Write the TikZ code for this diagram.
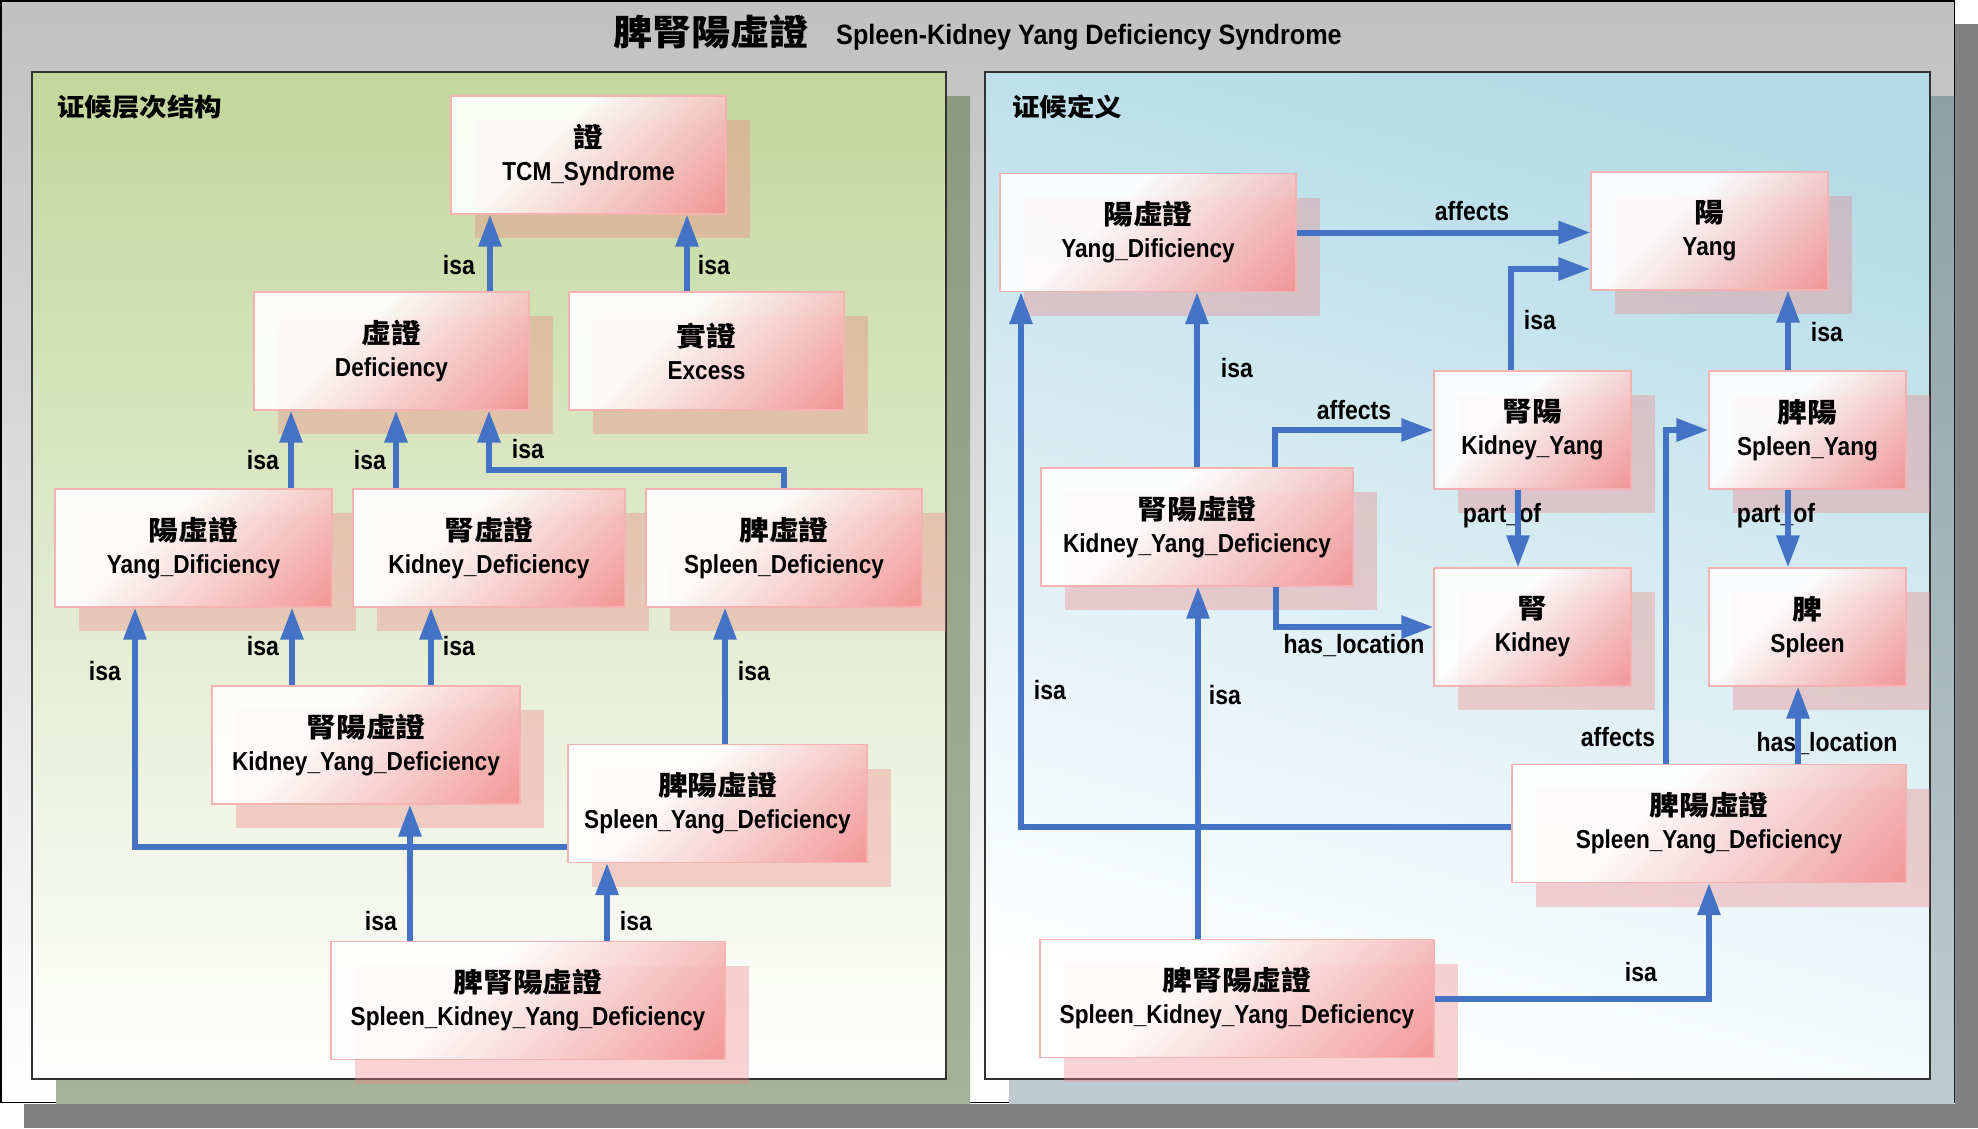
\documentclass[tikz,border=0pt]{standalone}
\usepackage{fontspec}
\setmainfont{Liberation Sans}[FakeStretch=0.87]
\newfontfamily\titlelatin{Liberation Sans}[FakeStretch=0.9]
\newfontfamily\cjk{Noto Sans CJK SC}[FakeStretch=1.1]
\newfontfamily\cjkn{Noto Sans CJK SC}[FakeStretch=1.1,Scale=1.04]
\usetikzlibrary{arrows.meta,calc,shadows}

\definecolor{linkblue}{RGB}{68,114,196}
\definecolor{framegray}{RGB}{192,192,192}
\definecolor{frameshadow}{RGB}{128,128,128}
\definecolor{leftgreen}{RGB}{195,214,156}
\definecolor{leftshadowtop}{RGB}{142,154,127}
\definecolor{leftshadowbot}{RGB}{166,178,149}
\definecolor{rightblue}{RGB}{180,219,231}
\definecolor{rightshadowtop}{RGB}{140,160,166}
\definecolor{rightshadowbot}{RGB}{190,204,209}
\definecolor{panelline}{RGB}{50,50,50}
\definecolor{conceptred}{RGB}{242,108,108}
\definecolor{conceptpink}{RGB}{247,196,196}
\definecolor{conceptedge}{RGB}{244,178,176}
\definecolor{conceptshadow}{RGB}{238,130,130}

\pgfdeclarehorizontalshading{conceptshade}{100bp}{color(0bp)=(white); color(40bp)=(white); color(65bp)=(conceptpink); color(100bp)=(conceptred)}

\newcommand\cptfont{\fontsize{26}{33}\selectfont\bfseries}
\newcommand\lblfont{\fontsize{26.5}{30}\selectfont\bfseries}

\begin{document}
\begin{tikzpicture}[x=1pt,y=-1pt,
  concept/.style={draw=conceptedge, line width=1.2pt, shade, shading=conceptshade,
    shading angle=-45, fill opacity=0.9, text opacity=1,
    minimum height=118pt, minimum width=275pt, inner sep=0pt, align=center,
    font=\cptfont,
    drop shadow={shadow xshift=24pt, shadow yshift=-24pt, fill=conceptshadow, opacity=0.35}},
  link/.style={draw=linkblue, line width=6pt, -{Triangle[length=32pt,width=22pt]}},
  lbl/.style={font=\lblfont, inner sep=0pt},
  header/.style={font=\cjk\bfseries\fontsize{25}{28}\selectfont, inner sep=0pt, anchor=base west},
]
\useasboundingbox (0,0) rectangle (1978,1128);

% outer frame with its shadow
\fill[frameshadow] (24,24) rectangle (1978,1128);
\shade[top color=framegray, bottom color=white] (0,0) rectangle (1955,1103);
\draw[black, line width=1.5pt] (0.75,0.75) rectangle (1954.25,1102.25);

% title
\node[inner sep=0pt, anchor=base west, font=\cjk\bfseries\fontsize{35.5}{37}\selectfont] (titlecn) at (613,45) {脾腎陽虛證};
\node[inner sep=0pt, anchor=base west, font=\titlelatin\bfseries\fontsize{28}{30}\selectfont] (titleen) at (836,44) {Spleen-Kidney Yang Deficiency Syndrome};

% left panel
\shade[top color=leftshadowtop, bottom color=leftshadowbot] (56,96) rectangle (970,1103);
\shade[top color=leftgreen, bottom color=white, draw=panelline, line width=1.2pt] (32,72) rectangle (946,1079);
\node[header] (hleft) at (57,116) {证候层次结构};

% right panel
\shade[top color=rightshadowtop, bottom color=rightshadowbot] (1009,96) rectangle (1954,1103);
\shade[top color=rightblue, bottom color=white, shading angle=-15, draw=panelline, line width=1.2pt] (985,72) rectangle (1930,1079);
\node[header] (hright) at (1012,116) {证候定义};

% ---------- hierarchy (left) ----------
\node[concept] (tcm) at (588.5,155) {{\cjkn 證}\\TCM\_Syndrome};
\node[concept] (def) at (391.5,351) {{\cjkn 虛證}\\Deficiency};
\node[concept] (exc) at (706.5,351) {{\cjkn 實證}\\Excess};
\node[concept, minimum width=277pt] (yd) at (193.5,548) {{\cjkn 陽虛證}\\Yang\_Dificiency};
\node[concept, minimum width=272pt] (kd) at (489,548) {{\cjkn 腎虛證}\\Kidney\_Deficiency};
\node[concept, minimum width=276pt] (sd) at (784,548) {{\cjkn 脾虛證}\\Spleen\_Deficiency};
\node[concept, minimum width=308pt] (kyd) at (366,745) {{\cjkn 腎陽虛證}\\Kidney\_Yang\_Deficiency};
\node[concept, minimum width=299pt] (syd) at (717.5,803.5) {{\cjkn 脾陽虛證}\\Spleen\_Yang\_Deficiency};
\node[concept, minimum width=394pt] (skyd) at (528,1000.5) {{\cjkn 脾腎陽虛證}\\Spleen\_Kidney\_Yang\_Deficiency};

\node[lbl] (la1) at (459,265) {isa};
\node[lbl] (la2) at (714,265) {isa};
\node[lbl] (la3) at (263,460) {isa};
\node[lbl] (la4) at (370,460) {isa};
\node[lbl] (la5) at (528,449) {isa};
\node[lbl] (la6) at (263,646) {isa};
\node[lbl] (la7) at (459,646) {isa};
\node[lbl] (la8) at (754,671) {isa};
\node[lbl] (la9) at (105,671) {isa};
\node[lbl] (la10) at (381,921) {isa};
\node[lbl] (la11) at (636,921) {isa};

\draw[link] ($(def.north)+(98.5,0)$) -- ($(tcm.south)+(-98.5,0)$);
\draw[link] ($(exc.north)+(-19.5,0)$) -- ($(tcm.south)+(98.5,0)$);
\draw[link] ($(yd.north)+(97.5,0)$) -- ($(def.south)+(-100.5,0)$);
\draw[link] ($(kd.north)+(-93,0)$) -- ($(def.south)+(4.5,0)$);
\draw[link] (sd.north) -- ++(0,-18) -| ($(def.south)+(97.5,0)$);
\draw[link] ($(kyd.north)+(-74,0)$) -- ($(yd.south)+(98.5,0)$);
\draw[link] ($(kyd.north)+(65,0)$) -- ($(kd.south)+(-58,0)$);
\draw[link] ($(syd.north)+(7.5,0)$) -- ($(sd.south)+(-59,0)$);
\draw[link] ($(syd.south west)+(0,-16)$) -| ($(yd.south)+(-58.5,0)$);
\draw[link] ($(skyd.north)+(-118,0)$) -- ($(kyd.south)+(44,0)$);
\draw[link] ($(skyd.north)+(79,0)$) -- ($(syd.south)+(-110.5,0)$);

% ---------- definition (right) ----------
\node[concept, minimum width=296pt] (ryd) at (1148,232.5) {{\cjkn 陽虛證}\\Yang\_Dificiency};
\node[concept, minimum width=237pt] (ryang) at (1709.5,231) {{\cjkn 陽}\\Yang};
\node[concept, minimum width=197pt] (rky) at (1532.5,430) {{\cjkn 腎陽}\\Kidney\_Yang};
\node[concept, minimum width=197pt] (rsy) at (1807.5,430) {{\cjkn 脾陽}\\Spleen\_Yang};
\node[concept, minimum width=312pt] (rkyd) at (1197,527) {{\cjkn 腎陽虛證}\\Kidney\_Yang\_Deficiency};
\node[concept, minimum width=197pt] (rk) at (1532.5,627) {{\cjkn 腎}\\Kidney};
\node[concept, minimum width=197pt] (rs) at (1807.5,627) {{\cjkn 脾}\\Spleen};
\node[concept, minimum width=394pt] (rsyd) at (1709,823.5) {{\cjkn 脾陽虛證}\\Spleen\_Yang\_Deficiency};
\node[concept, minimum width=394pt] (rskyd) at (1237,998.5) {{\cjkn 脾腎陽虛證}\\Spleen\_Kidney\_Yang\_Deficiency};

\node[lbl] (lb1) at (1472,211) {affects};
\node[lbl] (lb2) at (1540,320) {isa};
\node[lbl] (lb3) at (1827,332) {isa};
\node[lbl] (lb4) at (1237,368) {isa};
\node[lbl] (lb5) at (1354,410) {affects};
\node[lbl] (lb6) at (1502,516) {part\_of};
\node[lbl] (lb7) at (1776,516) {part\_of};
\node[lbl] (lb8) at (1354,646) {has\_location};
\node[lbl] (lb9) at (1827,744) {has\_location};
\node[lbl] (lb10) at (1618,737) {affects};
\node[lbl] (lb11) at (1050,690) {isa};
\node[lbl] (lb12) at (1225,695) {isa};
\node[lbl] (lb13) at (1641,972) {isa};

\draw[link] (ryd.east) -- (ryd.east -| ryang.west);
\draw[link] ($(rky.north)+(-21.5,0)$) |- ($(ryang.west)+(0,38)$);
\draw[link] ($(rsy.north)+(-19.5,0)$) -- ($(ryang.south)+(78.5,0)$);
\draw[link] (rkyd.north) -- (rkyd.north |- ryd.south);
\draw[link] ($(rkyd.north)+(78,0)$) |- (rky.west);
\draw[link] ($(rky.south)+(-14.5,0)$) -- ($(rk.north)+(-14.5,0)$);
\draw[link] ($(rsy.south)+(-19.5,0)$) -- ($(rs.north)+(-19.5,0)$);
\draw[link] ($(rkyd.south)+(79,0)$) |- (rk.west);
\draw[link] ($(rsyd.north)+(89,0)$) -- ($(rs.south)+(-9.5,0)$);
\draw[link] ($(rsyd.north)+(-43,0)$) |- (rsy.west);
\draw[link] ($(rsyd.west)+(0,3.5)$) -| ($(ryd.south)+(-127,0)$);
\draw[link] ($(rskyd.north)+(-39,0)$) -- ($(rkyd.south)+(1,0)$);
\draw[link] (rskyd.east) -| (rsyd.south);
\end{tikzpicture}
\end{document}
